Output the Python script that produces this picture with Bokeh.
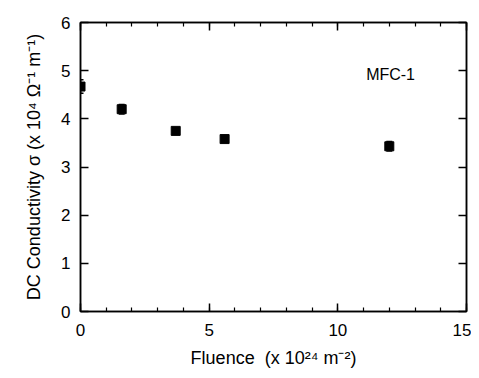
from bokeh.plotting import figure
from bokeh.models import (ColumnDataSource, LinearAxis, FixedTicker, Range1d,
                          Whisker, TeeHead, Label)
from bokeh.embed import file_html
from bokeh.resources import INLINE

fluence = [0.0, 1.6, 3.7, 5.6, 12.0]
sigma = [4.67, 4.20, 3.75, 3.58, 3.43]
err = [0.14, 0.10, 0.04, 0.05, 0.10]
x_ticks = [0, 5, 10, 15]
x_minor = list(range(16))
y_ticks = [0, 1, 2, 3, 4, 5, 6]

FONT = "Liberation Sans"

src = ColumnDataSource(dict(
    x=fluence, y=sigma,
    lo=[s - e for s, e in zip(sigma, err)],
    hi=[s + e for s, e in zip(sigma, err)],
))

p = figure(width=471, height=370, output_backend="svg", toolbar_location=None,
           x_range=Range1d(0, 15), y_range=Range1d(0, 6),
           x_axis_type=None, y_axis_type=None,
           min_border_left=80, min_border_right=5, min_border_top=22,
           min_border_bottom=57)
p.grid.visible = False
p.outline_line_color = "black"
p.outline_line_width = 1.5
p.background_fill_color = "white"
p.border_fill_color = "white"

def style(ax, labels=True, x=True):
    ax.ticker = FixedTicker(ticks=x_ticks, minor_ticks=x_minor) if x else FixedTicker(ticks=y_ticks)
    ax.major_tick_in = 8
    ax.major_tick_out = 0
    ax.minor_tick_in = 4 if x else 0
    ax.minor_tick_out = 0
    ax.axis_line_width = 1.5
    ax.major_tick_line_width = 1.5
    ax.minor_tick_line_width = 1.2
    ax.major_label_text_font = FONT
    ax.major_label_text_font_size = "17px"
    ax.major_label_text_color = "black"
    ax.axis_label_text_font = FONT
    ax.axis_label_text_font_size = "18px"
    ax.axis_label_text_font_style = "normal"
    ax.axis_label_text_color = "black"
    if not labels:
        ax.major_label_text_font_size = "0px"
        ax.major_label_text_alpha = 0

bx = LinearAxis(axis_label="Fluence\u00a0\u00a0(x\u00a010²⁴\u00a0m⁻²)")
style(bx)
bx.major_label_standoff = 12
bx.axis_label_standoff = 9
p.add_layout(bx, "below")

tx = LinearAxis()
style(tx, labels=False)
p.add_layout(tx, "above")

ly = LinearAxis(axis_label="DC Conductivity σ (x 10⁴\u00a0Ω⁻¹\u00a0m⁻¹)")
style(ly, x=False)
ly.major_label_standoff = 10
ly.axis_label_standoff = 14
p.add_layout(ly, "left")

ry = LinearAxis()
style(ry, labels=False, x=False)
p.add_layout(ry, "right")

w = Whisker(source=src, base="x", lower="lo", upper="hi", line_color="black",
            line_width=1.5,
            upper_head=TeeHead(size=6, line_color="black", line_width=1.5),
            lower_head=TeeHead(size=6, line_color="black", line_width=1.5))
p.add_layout(w)

p.scatter("x", "y", source=src, marker="square", size=9, color="black")

p.add_layout(Label(x=11.1, y=4.92, text="MFC-1", text_font=FONT,
                   text_font_size="16px", text_baseline="middle",
                   text_color="black"))

open("out.html", "w").write(file_html(p, INLINE))
